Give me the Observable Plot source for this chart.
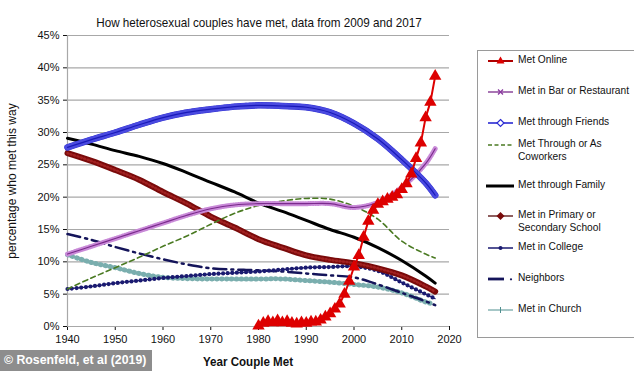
<!DOCTYPE html>
<html>
<head>
<meta charset="utf-8">
<script src="https://cdn.jsdelivr.net/npm/d3@7"></script>
<script src="https://cdn.jsdelivr.net/npm/@observablehq/plot@0.6"></script>
<style>
  html, body { margin: 0; padding: 0; background: #fff; }
  body { width: 634px; height: 371px; position: relative; overflow: hidden; font-family: "Liberation Sans", Arial, sans-serif; }
  #chart { position: absolute; left: 0; top: 0; }
  #title { position: absolute; top: 15px; left: 259px; transform: translateX(-50%) scaleX(0.86); white-space: nowrap; font-size: 13.6px; color: #111; line-height: 15px; }
  #xlabel { position: absolute; top: 355px; left: 248px; transform: translateX(-50%) scaleX(0.92); white-space: nowrap; font-size: 12.6px; font-weight: bold; color: #111; line-height: 14px; }
  #legend { position: absolute; left: 477px; top: 50px; width: 170px; height: 288px; border: 1px solid #9a9a9a; box-sizing: border-box; }
  .item { position: absolute; left: 8px; font-size: 10.2px; line-height: 12.5px; color: #111; display: flex; align-items: flex-start; }
  .item svg { flex: none; margin-right: 1px; }
  #caption { position: absolute; left: 0; top: 350px; width: 152px; height: 21px; background: #8d8d8d; color: #fff; font-weight: bold; font-size: 12.3px; line-height: 21px; padding-left: 4px; box-sizing: border-box; white-space: nowrap; }
  svg [aria-label="y-axis label"] { font-size: 12px; }
</style>
</head>
<body>
<div id="title">How heterosexual couples have met, data from 2009 and 2017</div>
<div id="chart"></div>
<div id="xlabel">Year Couple Met</div>
<div id="legend"></div>
<div id="caption">© Rosenfeld, et al (2019)</div>
<script>
// ---- data (percent of couples) ----
const years = [1940,1945,1950,1955,1960,1965,1970,1975,1980,1985,1990,1995,2000,2005,2010,2015,2017];
const friends   = [27.7,28.9,30.0,31.2,32.3,33.1,33.6,34.0,34.2,34.1,33.9,33.1,31.4,29.0,25.8,22.2,20.3];
const family    = [29.1,28.2,27.2,26.3,25.2,23.8,22.3,20.8,19.1,17.8,16.4,15.0,13.8,12.2,10.2,7.8,6.7];
const primary   = [26.8,25.6,24.2,22.7,20.8,19.0,17.0,15.3,13.5,12.2,11.0,10.3,9.8,9.0,7.9,6.2,5.4];
const bar       = [11.2,12.4,13.6,14.8,16.0,17.2,18.2,18.8,19.0,19.0,19.0,19.0,18.4,19.2,21.5,25.2,27.5];
const coworkers = [5.8,7.5,9.1,10.7,12.4,14.0,15.8,17.5,18.7,19.4,19.8,19.7,18.6,16.6,13.2,11.2,10.6];
const college   = [5.8,6.2,6.7,7.1,7.5,7.8,8.1,8.3,8.5,8.8,9.1,9.2,9.3,8.6,6.8,5.0,4.3];
const neighbors = [14.3,13.4,12.3,11.3,10.4,9.6,9.0,8.8,8.7,8.5,8.2,7.9,7.6,6.5,5.2,3.9,3.3];
const churchYears = [1940,1945,1950,1955,1960,1965,1970,1975,1980,1985,1990,1995,2000,2005,2010,2015,2016];
const church    = [11.1,9.9,9.1,8.2,7.6,7.4,7.35,7.35,7.35,7.35,7.1,6.85,6.5,6.1,5.2,3.8,3.6];
const onlineYears = d3.range(1980, 2018);
const online    = [0.1,0.5,0.8,0.6,0.9,0.6,0.8,0.5,0.4,0.6,0.5,0.7,0.7,1.0,1.5,2.0,2.7,3.5,5.0,7.0,9.2,11.0,13.8,16.3,18.0,18.9,19.3,19.7,20.0,20.4,21.2,22.1,23.6,26.0,28.4,32.3,34.7,38.7];
const yTicks = [0,5,10,15,20,25,30,35,40,45];
const xTicks = [1940,1950,1960,1970,1980,1990,2000,2010,2020];
const legendLabels = ["Met Online","Met in Bar or Restaurant","Met through Friends","Met Through or As Coworkers","Met through Family","Met in Primary or Secondary School","Met in College","Neighbors","Met in Church"];

const rows = (xs, vs) => xs.map((year, i) => ({year, value: vs[i]}));
const dFriends = rows(years, friends), dFamily = rows(years, family), dPrimary = rows(years, primary),
      dBar = rows(years, bar), dCow = rows(years, coworkers), dCollege = rows(years, college),
      dNeigh = rows(years, neighbors), dChurch = rows(churchYears, church), dOnline = rows(onlineYears, online);

const L = (data, o) => Plot.line(data, {x: "year", y: "value", curve: "catmull-rom", ...o});

const chart = Plot.plot({
  width: 634, height: 371,
  marginTop: 35, marginBottom: 45, marginLeft: 67, marginRight: 185,
  style: {fontFamily: "Liberation Sans, Arial, sans-serif", fontSize: "11px", color: "#111", background: "transparent"},
  x: {domain: [1940, 2020], ticks: xTicks, tickFormat: d => String(d), tickSize: 4, tickPadding: 5, label: null},
  y: {domain: [0, 45], ticks: yTicks, tickFormat: d => d + "%", tickSize: 4, tickPadding: 4,
      label: "percentage who met this way", labelAnchor: "center", labelOffset: 60, labelArrow: "none"},
  marks: [
    Plot.gridY(yTicks, {stroke: "#a8a8a8", strokeOpacity: 1, strokeWidth: 1.2}),
    Plot.ruleX([1940], {stroke: "#a8a8a8", strokeWidth: 1.2}),
    Plot.ruleY([0], {stroke: "#a8a8a8", strokeWidth: 1.2}),
    // church (teal +)
    L(dChurch, {stroke: "#4f8f8f", strokeWidth: 1}),
    L(dChurch, {stroke: "#7aaeae", strokeWidth: 5, strokeDasharray: "0.7,4.2"}),
    // neighbors (dash-dot)
    L(dNeigh, {stroke: "#14145a", strokeWidth: 2.5, strokeDasharray: "13,5,2,5"}),
    // college (dots)
    L(dCollege, {stroke: "#1a1a70", strokeWidth: 1.2}),
    L(dCollege, {stroke: "#1a1a70", strokeWidth: 4.2, strokeDasharray: "0,4.6", strokeLinecap: "round"}),
    // primary / secondary school (filled diamonds)
    L(dPrimary, {stroke: "#7a0a0a", strokeWidth: 6}),
    L(dPrimary, {stroke: "#a02020", strokeWidth: 2.5, strokeDasharray: "1,2.5"}),
    // family
    L(dFamily, {stroke: "#000", strokeWidth: 3}),
    // coworkers
    L(dCow, {stroke: "#4a7a22", strokeWidth: 1.6, strokeDasharray: "5,3.5"}),
    // bar / restaurant (x markers)
    L(dBar, {stroke: "#c98ad8", strokeWidth: 5, strokeDasharray: "1,1.5"}),
    L(dBar, {stroke: "#7a2a8c", strokeWidth: 1.1}),
    // friends (hollow diamonds)
    L(dFriends, {stroke: "#3030d0", strokeWidth: 6.5}),
    L(dFriends, {stroke: "#f2f2ff", strokeWidth: 4.2}),
    L(dFriends, {stroke: "#4a4ae0", strokeWidth: 6, strokeDasharray: "0.8,2.8"}),
    L(dFriends, {stroke: "#1a1ab8", strokeWidth: 1.2}),
    // online (red triangles)
    Plot.line(dOnline, {x: "year", y: "value", stroke: "#dd0000", strokeWidth: 2}),
    Plot.dot(dOnline, {x: "year", y: "value", symbol: "triangle", r: 4.6, fill: "#dd0000", stroke: "none"})
  ]
});
document.getElementById("chart").appendChild(chart);

// ---- legend ----
const sw = {
  online: `<line x1="2" y1="7" x2="27" y2="7" stroke="#b00000" stroke-width="2"/><path d="M14.5,2.5 L18.5,9.5 L10.5,9.5 Z" fill="#dd0000"/>`,
  bar: `<line x1="2" y1="7" x2="27" y2="7" stroke="#7a2a8c" stroke-width="1.3"/><path d="M12,4.5 L17,9.5 M17,4.5 L12,9.5" stroke="#8a3aa0" stroke-width="1.3"/>`,
  friends: `<line x1="2" y1="7" x2="27" y2="7" stroke="#2a2ad2" stroke-width="1.6"/><path d="M14.5,3.5 L18,7 L14.5,10.5 L11,7 Z" fill="#fff" stroke="#2a2ad2" stroke-width="1.2"/>`,
  cow: `<line x1="2" y1="7" x2="28" y2="7" stroke="#4a7a22" stroke-width="1.5" stroke-dasharray="4,2.5"/>`,
  family: `<line x1="0" y1="7" x2="28" y2="7" stroke="#000" stroke-width="3"/>`,
  primary: `<line x1="2" y1="7" x2="27" y2="7" stroke="#6a2a2a" stroke-width="1.5"/><path d="M14.5,3 L18.5,7 L14.5,11 L10.5,7 Z" fill="#7a0a0a"/>`,
  college: `<line x1="2" y1="7" x2="27" y2="7" stroke="#1a1a70" stroke-width="1.5"/><circle cx="14.5" cy="7" r="2" fill="#1a1a70"/>`,
  neigh: `<line x1="2" y1="7" x2="18" y2="7" stroke="#14145a" stroke-width="2.8"/><circle cx="25" cy="7.3" r="1.1" fill="#14145a"/>`,
  church: `<line x1="2" y1="7" x2="27" y2="7" stroke="#4f8f8f" stroke-width="1"/><path d="M14.5,4 L14.5,10" stroke="#4f8f8f" stroke-width="1"/>`
};
const keys = ["online","bar","friends","cow","family","primary","college","neigh","church"];
const tops = [3, 34, 65, 87, 128, 158, 190, 221, 252];
const legend = document.getElementById("legend");
keys.forEach((k, i) => {
  const div = document.createElement("div");
  div.className = "item";
  div.style.top = tops[i] + "px";
  div.innerHTML = `<svg width="31" height="14">${sw[k]}</svg><span style="width:124px">${legendLabels[i]}</span>`;
  legend.appendChild(div);
});
</script>
</body>
</html>
